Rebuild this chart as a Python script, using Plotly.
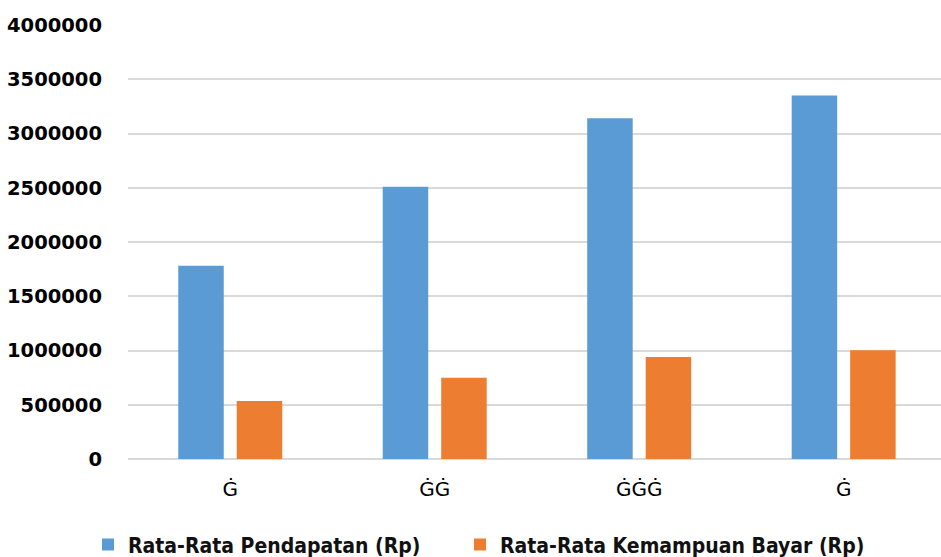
import plotly.graph_objects as go

categories = ["Ġ", "ĠĠ", "ĠĠĠ", "Ġ"]
pendapatan = [1780000, 2510000, 3140000, 3350000]
kemampuan_bayar = [535000, 750000, 940000, 1003000]
y_ticks = [0, 500000, 1000000, 1500000, 2000000, 2500000, 3000000, 3500000, 4000000]

positions = list(range(len(categories)))

fig = go.Figure()
fig.add_trace(go.Bar(
    x=positions, y=pendapatan, name="Rata-Rata Pendapatan (Rp)",
    marker=dict(color="#5B9BD5", line=dict(width=0)),
    legend="legend",
))
fig.add_trace(go.Bar(
    x=positions, y=kemampuan_bayar, name="Rata-Rata Kemampuan Bayar (Rp)",
    marker=dict(color="#ED7D31", line=dict(width=0)),
    legend="legend2",
))

legend_font = dict(
    family="DejaVu Sans Condensed, Liberation Sans Narrow, Arial Narrow, DejaVu Sans",
    size=21, color="#111", weight="bold",
)


def legend_box(left_px):
    return dict(
        orientation="h", xref="container", x=left_px / 941, xanchor="left",
        yref="container", y=0.022, yanchor="middle",
        font=legend_font, tracegroupgap=0, bgcolor="rgba(0,0,0,0)",
    )


fig.update_layout(
    width=941, height=557,
    margin=dict(l=128, r=0, t=25, b=98, autoexpand=False),
    paper_bgcolor="white", plot_bgcolor="white",
    barmode="group", bargap=0.428, bargroupgap=0.222,
    showlegend=True,
    legend=legend_box(88),
    legend2=legend_box(460),
    xaxis=dict(
        range=[-0.5, 3.476],
        tickmode="array", tickvals=positions, ticktext=categories,
        tickfont=dict(family="DejaVu Sans", size=20, color="#000"),
        showgrid=False, zeroline=False, showline=False, ticks="",
        ticklabelstandoff=16, automargin=False,
    ),
    yaxis=dict(
        range=[0, 4000000],
        tickmode="array", tickvals=y_ticks,
        ticktext=[str(v) for v in y_ticks],
        tickfont=dict(family="DejaVu Sans", size=19.5, color="#000", weight="bold"),
        showgrid=True, gridcolor="#d9d9d9", gridwidth=2,
        zeroline=True, zerolinecolor="#d9d9d9", zerolinewidth=2,
        showline=False, ticks="", ticklabelstandoff=25, automargin=False,
    ),
)

fig.write_html("out.html")
